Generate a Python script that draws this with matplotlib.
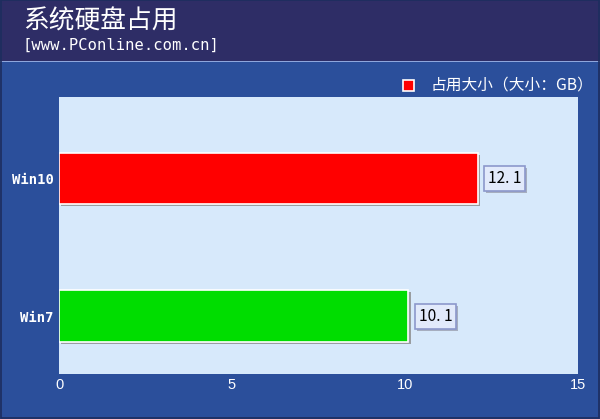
import matplotlib
matplotlib.use("Agg")
import matplotlib.pyplot as plt
from matplotlib.patches import Rectangle
import matplotlib.patheffects as pe

categories = ["Win7", "Win10"]
values = [10.1, 12.1]
bar_colors = ["#00dd00", "#ff0000"]
x_ticks = [0, 5, 10, 15]
title = "系统硬盘占用"
subtitle = "[www.PConline.com.cn]"
legend_label = "占用大小（大小：GB）"

W, H = 600, 419
fig = plt.figure(figsize=(W / 100, H / 100), dpi=100)
fig.patch.set_facecolor("#2b4f9b")

def fx(px):
    return px / W

def fy(py):
    return 1 - py / H

# header band
fig.patches.append(Rectangle((0, fy(61)), 1, 1 - fy(61), transform=fig.transFigure,
                             facecolor="#2e2d66", edgecolor="none", zorder=0))
fig.patches.append(Rectangle((0, fy(62.5)), 1, fy(61) - fy(62.5), transform=fig.transFigure,
                             facecolor="#8fa6dc", edgecolor="none", zorder=0))
# outer border
fig.patches.append(Rectangle((fx(0.5), fy(418)), fx(598.5), fy(0.5) - fy(418), transform=fig.transFigure,
                             facecolor="none", edgecolor="#1d2d5e", linewidth=1.2, zorder=5))

fig.text(fx(23), fy(22), title, family=["Noto Sans CJK SC", "DejaVu Sans"], fontsize=18.5,
         fontweight="medium", color="white", ha="left", va="center")
fig.text(fx(23), fy(45), subtitle, family="DejaVu Sans Mono", fontsize=11.2,
         color="white", ha="left", va="center")

# legend
fig.patches.append(Rectangle((fx(403), fy(91)), fx(11), fy(80) - fy(91), transform=fig.transFigure,
                             facecolor="#ff0000", edgecolor="white", linewidth=1.2, zorder=3))
fig.text(fx(431), fy(85), legend_label, family=["Noto Sans CJK SC", "DejaVu Sans"], fontsize=11.3,
         color="white", ha="left", va="center")

ax = fig.add_axes([fx(59), fy(374), fx(578) - fx(59), fy(97) - fy(374)])
ax.set_facecolor("#d7e9fb")
for s in ax.spines.values():
    s.set_visible(False)

ypos = list(range(len(categories)))
bars = ax.barh(ypos, values, height=0.375, color=bar_colors, edgecolor="white", linewidth=1.2, zorder=3)
for b in bars:
    b.set_path_effects([pe.SimplePatchShadow(offset=(1.5, -1.5), shadow_rgbFace="#8a8a8a", alpha=0.8),
                        pe.Normal()])

for y, v in zip(ypos, values):
    t = ax.annotate(f"{v:.1f}".replace(".", ". "), xy=(v, y), xytext=(27, 0), textcoords="offset pixels",
                    ha="center", va="center", fontsize=11.2, color="black",
                    family=["Noto Sans CJK SC", "DejaVu Sans"], zorder=5,
                    bbox=dict(boxstyle="square,pad=0.25", facecolor="#e2eafb", edgecolor="#8c98cc", linewidth=1.2))
    t.get_bbox_patch().set_path_effects([pe.SimplePatchShadow(offset=(1.5, -1.5), shadow_rgbFace="#9aa0b0", alpha=0.8),
                                         pe.Normal()])

ax.set_xlim(0, 15)
ax.set_ylim(-0.42, 1.593)
ax.set_xticks(x_ticks)
ax.set_xticklabels([str(t) for t in x_ticks])
ax.set_yticks(ypos)
ax.set_yticklabels(categories)
ax.tick_params(axis="x", length=0, pad=3, colors="white", labelsize=10.5)
ax.tick_params(axis="y", length=0, pad=4, colors="white", labelsize=10)
for lab in ax.get_yticklabels():
    lab.set_family("DejaVu Sans Mono")
    lab.set_fontweight("bold")
for lab in ax.get_xticklabels():
    lab.set_family("Liberation Sans")

fig.savefig("out.png", dpi=100, facecolor=fig.get_facecolor())
